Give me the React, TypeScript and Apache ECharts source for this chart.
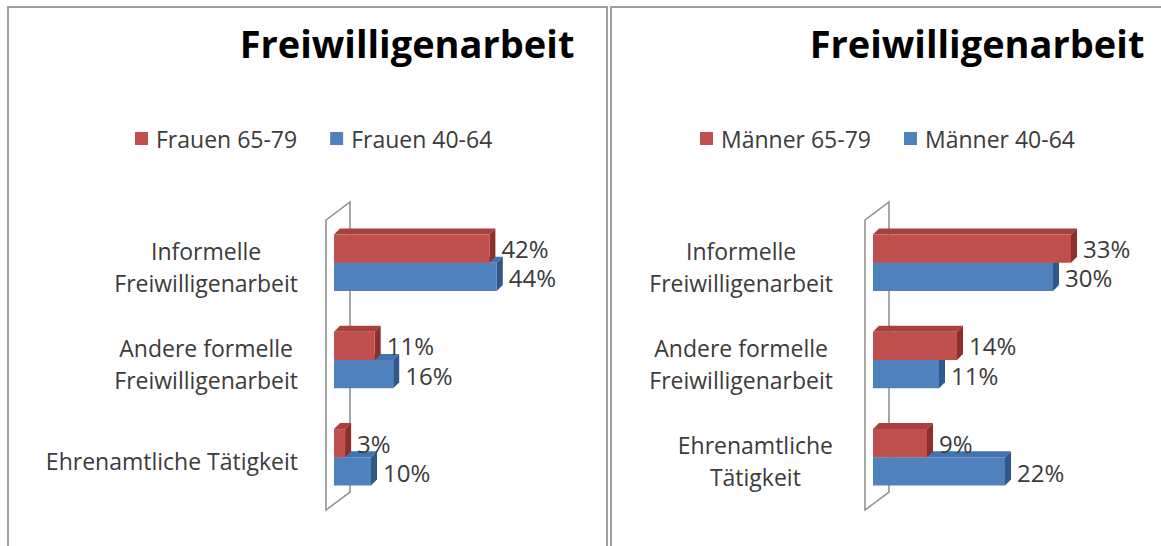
import React, { useEffect, useRef } from 'react';
import * as echarts from 'echarts';

const titleText = 'Freiwilligenarbeit';
const categoriesFrauen = ['Informelle\nFreiwilligenarbeit', 'Andere formelle\nFreiwilligenarbeit', 'Ehrenamtliche Tätigkeit'];
const categoriesMaenner = ['Informelle\nFreiwilligenarbeit', 'Andere formelle\nFreiwilligenarbeit', 'Ehrenamtliche\nTätigkeit'];
const legendFrauen = ['Frauen 65-79', 'Frauen 40-64'];
const legendMaenner = ['Männer 65-79', 'Männer 40-64'];
const frauen6579 = [42, 11, 3];
const frauen4064 = [44, 16, 10];
const maenner6579 = [33, 14, 9];
const maenner4064 = [30, 11, 22];
const maxFrauen = 50;
const maxMaenner = 35;

const FONT = '"Open Sans", "Noto Sans", sans-serif';
const TEXT = '#3b3b3b';
const RED = { front: '#C0504D', top: '#A8403D', side: '#8E2F2D' };
const BLUE = { front: '#4F81BD', top: '#4373AE', side: '#30598A' };
const BAR_RATIO = 0.29;
const DX = 6;
const DY = -6;

function barRender(upper: boolean, colors: { front: string; top: string; side: string }) {
  return (params: any, api: any) => {
    const val = api.value(0);
    const cat = api.value(1);
    const base = api.coord([0, cat]);
    const end = api.coord([val, cat]);
    const band = api.size([0, 1])[1];
    const h = band * BAR_RATIO;
    const y0 = upper ? base[1] - h : base[1];
    const x0 = base[0];
    const x1 = end[0];
    return {
      type: 'group',
      children: [
        {
          type: 'polygon',
          shape: { points: [[x0, y0], [x1, y0], [x1 + DX, y0 + DY], [x0 + DX, y0 + DY]] },
          style: { fill: colors.top },
        },
        {
          type: 'polygon',
          shape: { points: [[x1, y0], [x1 + DX, y0 + DY], [x1 + DX, y0 + h + DY], [x1, y0 + h]] },
          style: { fill: colors.side },
        },
        {
          type: 'rect',
          shape: { x: x0, y: y0, width: x1 - x0, height: h },
          style: { fill: colors.front },
        },
        {
          type: 'text',
          style: {
            text: val + '%',
            x: x1 + 12,
            y: y0 + h / 2 + (upper ? 0 : 1),
            align: 'left',
            verticalAlign: 'middle',
            fill: TEXT,
            fontSize: 24,
            lineHeight: 22,
            fontFamily: FONT,
          },
        },
      ],
    };
  };
}

function wallRender(params: any, api: any) {
  const cs = params.coordSys;
  const fx = cs.x - 8;
  const ft = cs.y + 6;
  const fb = cs.y + cs.height + 4;
  const wx = 24;
  const wy = -18;
  return {
    type: 'polygon',
    shape: { points: [[fx, ft], [fx + wx, ft + wy], [fx + wx, fb + wy], [fx, fb]] },
    style: { fill: '#ffffff', stroke: '#8c8c8c', lineWidth: 1.5 },
  };
}

function barSeries(name: string, values: number[], idx: number, upper: boolean, colors: any) {
  return {
    type: 'custom',
    name,
    xAxisIndex: idx,
    yAxisIndex: idx,
    clip: false,
    itemStyle: { color: colors.front },
    encode: { x: 0, y: 1 },
    data: values.map((v, i) => [v, i]),
    renderItem: barRender(upper, colors),
  };
}

function wallSeries(idx: number) {
  return {
    type: 'custom',
    name: 'wall' + idx,
    xAxisIndex: idx,
    yAxisIndex: idx,
    clip: false,
    silent: true,
    encode: { x: 0, y: 1 },
    data: [[0, 0]],
    renderItem: wallRender,
  };
}

function catAxis(idx: number, cats: string[], margin: number) {
  return {
    type: 'category',
    gridIndex: idx,
    inverse: true,
    data: cats,
    axisLine: { show: false },
    axisTick: { show: false },
    splitLine: { show: false },
    axisLabel: {
      margin,
      align: 'right',
      padding: [8, 0, 0, 0],
      formatter: (v: string) => v.split('\n').map((l) => '{c|' + l + '}').join('\n'),
      rich: {
        c: { align: 'center', fontSize: 23, lineHeight: 32, color: TEXT, fontFamily: FONT },
      },
    },
  };
}

function valAxis(idx: number, max: number) {
  return { type: 'value', gridIndex: idx, min: 0, max, show: false };
}

function legend(names: string[], left: number) {
  return {
    data: names,
    left,
    top: 127,
    padding: 0,
    icon: 'rect',
    itemWidth: 13,
    itemHeight: 13,
    itemGap: 33,
    selectedMode: false,
    textStyle: { fontSize: 23, color: TEXT, fontFamily: FONT, padding: [0, 0, 0, 3] },
  };
}

function title(left: number) {
  return {
    text: titleText,
    left,
    top: 24,
    padding: 0,
    textAlign: 'center',
    textStyle: { fontSize: 38, fontWeight: 'bold', color: '#000000', fontFamily: FONT },
  };
}

export default function App() {
  const ref = useRef<HTMLDivElement>(null);
  useEffect(() => {
    if (!ref.current) return;
    const chart = echarts.init(ref.current, undefined, { renderer: 'svg' });
    chart.setOption({
      animation: false,
      backgroundColor: '#ffffff',
      title: [title(407), title(977)],
      legend: [legend(legendFrauen, 135), legend(legendMaenner, 700)],
      grid: [
        { left: 334, top: 214, width: 185, height: 292 },
        { left: 873, top: 214, width: 210, height: 292 },
      ],
      xAxis: [valAxis(0, maxFrauen), valAxis(1, maxMaenner)],
      yAxis: [catAxis(0, categoriesFrauen, 36), catAxis(1, categoriesMaenner, 40)],
      graphic: [
        { type: 'rect', shape: { x: 8, y: 7, width: 599, height: 560 }, style: { fill: 'none', stroke: '#a0a0a0', lineWidth: 2 }, silent: true },
        { type: 'rect', shape: { x: 611, y: 7, width: 580, height: 560 }, style: { fill: 'none', stroke: '#a0a0a0', lineWidth: 2 }, silent: true },
      ],
      series: [
        wallSeries(0),
        wallSeries(1),
        barSeries(legendFrauen[1], frauen4064, 0, false, BLUE),
        barSeries(legendFrauen[0], frauen6579, 0, true, RED),
        barSeries(legendMaenner[1], maenner4064, 1, false, BLUE),
        barSeries(legendMaenner[0], maenner6579, 1, true, RED),
      ],
    });
    return () => chart.dispose();
  }, []);
  return <div ref={ref} style={{ position: 'fixed', left: 0, top: 0, width: 1161, height: 546 }} />;
}
